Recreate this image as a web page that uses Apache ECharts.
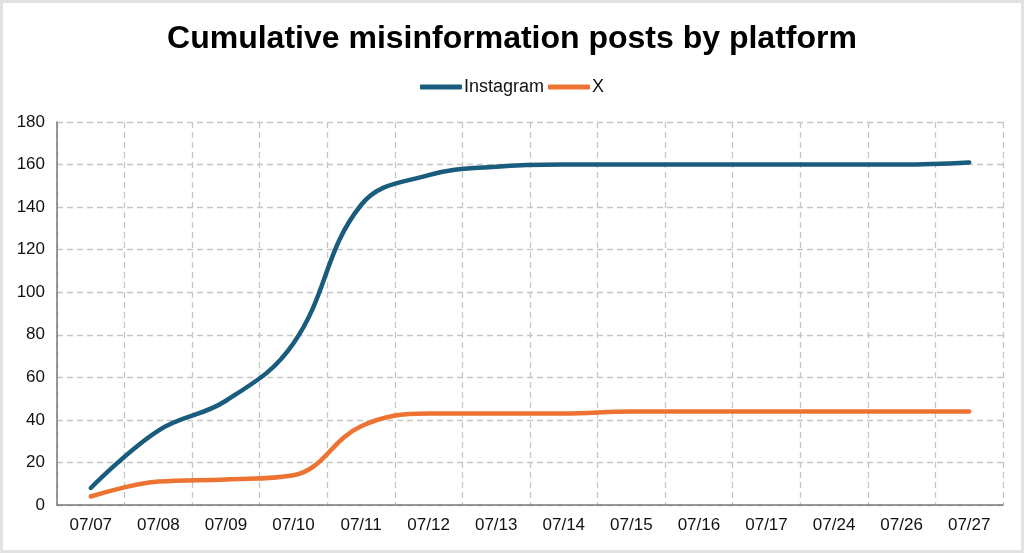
<!DOCTYPE html>
<html>
<head>
<meta charset="utf-8">
<script src="https://cdn.jsdelivr.net/npm/echarts@6/dist/echarts.min.js"></script>
<style>
  html, body { margin: 0; padding: 0; background: #fff; }
  #chart { width: 1024px; height: 553px; }
  #frame {
    position: absolute; left: 0; top: 0; width: 1024px; height: 553px;
    box-sizing: border-box; border: 3px solid #e2e2e2; pointer-events: none;
  }
</style>
</head>
<body>
<div id="chart"></div>
<div id="frame"></div>
<script>
var dates = ["07/07", "07/08", "07/09", "07/10", "07/11", "07/12", "07/13",
  "07/14", "07/15", "07/16", "07/17", "07/24", "07/26", "07/27"];
var instagram = [8, 35, 49, 76, 141, 155, 159, 160, 160, 160, 160, 160, 160, 161];
var xPosts = [4, 11, 12, 14, 37, 43, 43, 43, 44, 44, 44, 44, 44, 44];
var yTicks = { min: 0, max: 180, interval: 20 };

var chart = echarts.init(document.getElementById("chart"));
var fontFam = "Liberation Sans, Arial, sans-serif";

var option = {
  animation: false,
  title: {
    text: "Cumulative misinformation posts by platform",
    left: "center",
    top: 18,
    textStyle: { fontFamily: fontFam, fontSize: 32, fontWeight: "bold", color: "#000" },
  },
  legend: {
    top: 73,
    left: "center",
    itemWidth: 42,
    itemHeight: 5,
    itemGap: 4,
    icon: "roundRect",
    textStyle: { fontFamily: fontFam, fontSize: 18, color: "#111", padding: [0, 0, 0, -3] },
    data: ["Instagram", "X"],
  },
  grid: { left: 57, right: 21, top: 122, bottom: 48 },
  xAxis: {
    type: "category",
    data: dates,
    boundaryGap: true,
    axisLine: { lineStyle: { color: "#7a7a7a", width: 1.5 } },
    axisTick: { show: false },
    axisLabel: { fontFamily: fontFam, fontSize: 17, color: "#111", margin: 12 },
    splitLine: { show: true, lineStyle: { color: "#c6c6c6", type: [6, 4], width: 1.3 } },
  },
  yAxis: {
    type: "value",
    min: yTicks.min,
    max: yTicks.max,
    interval: yTicks.interval,
    axisLine: { show: true, lineStyle: { color: "#7a7a7a", width: 1.5 } },
    axisTick: { show: false },
    axisLabel: { fontFamily: fontFam, fontSize: 17, color: "#111", margin: 12 },
    splitLine: { show: true, lineStyle: { color: "#c6c6c6", type: [6, 4], width: 1.3 } },
  },
  series: [
    {
      name: "Instagram",
      type: "line",
      data: instagram,
      smooth: 0.4,
      symbol: "none",
      color: "#1a5c7e",
      lineStyle: { width: 4.5, cap: "round" },
    },
    {
      name: "X",
      type: "line",
      data: xPosts,
      smooth: 0.4,
      symbol: "none",
      color: "#ec7332",
      lineStyle: { width: 4.5, cap: "round" },
    },
  ],
};
chart.setOption(option);
</script>
</body>
</html>
